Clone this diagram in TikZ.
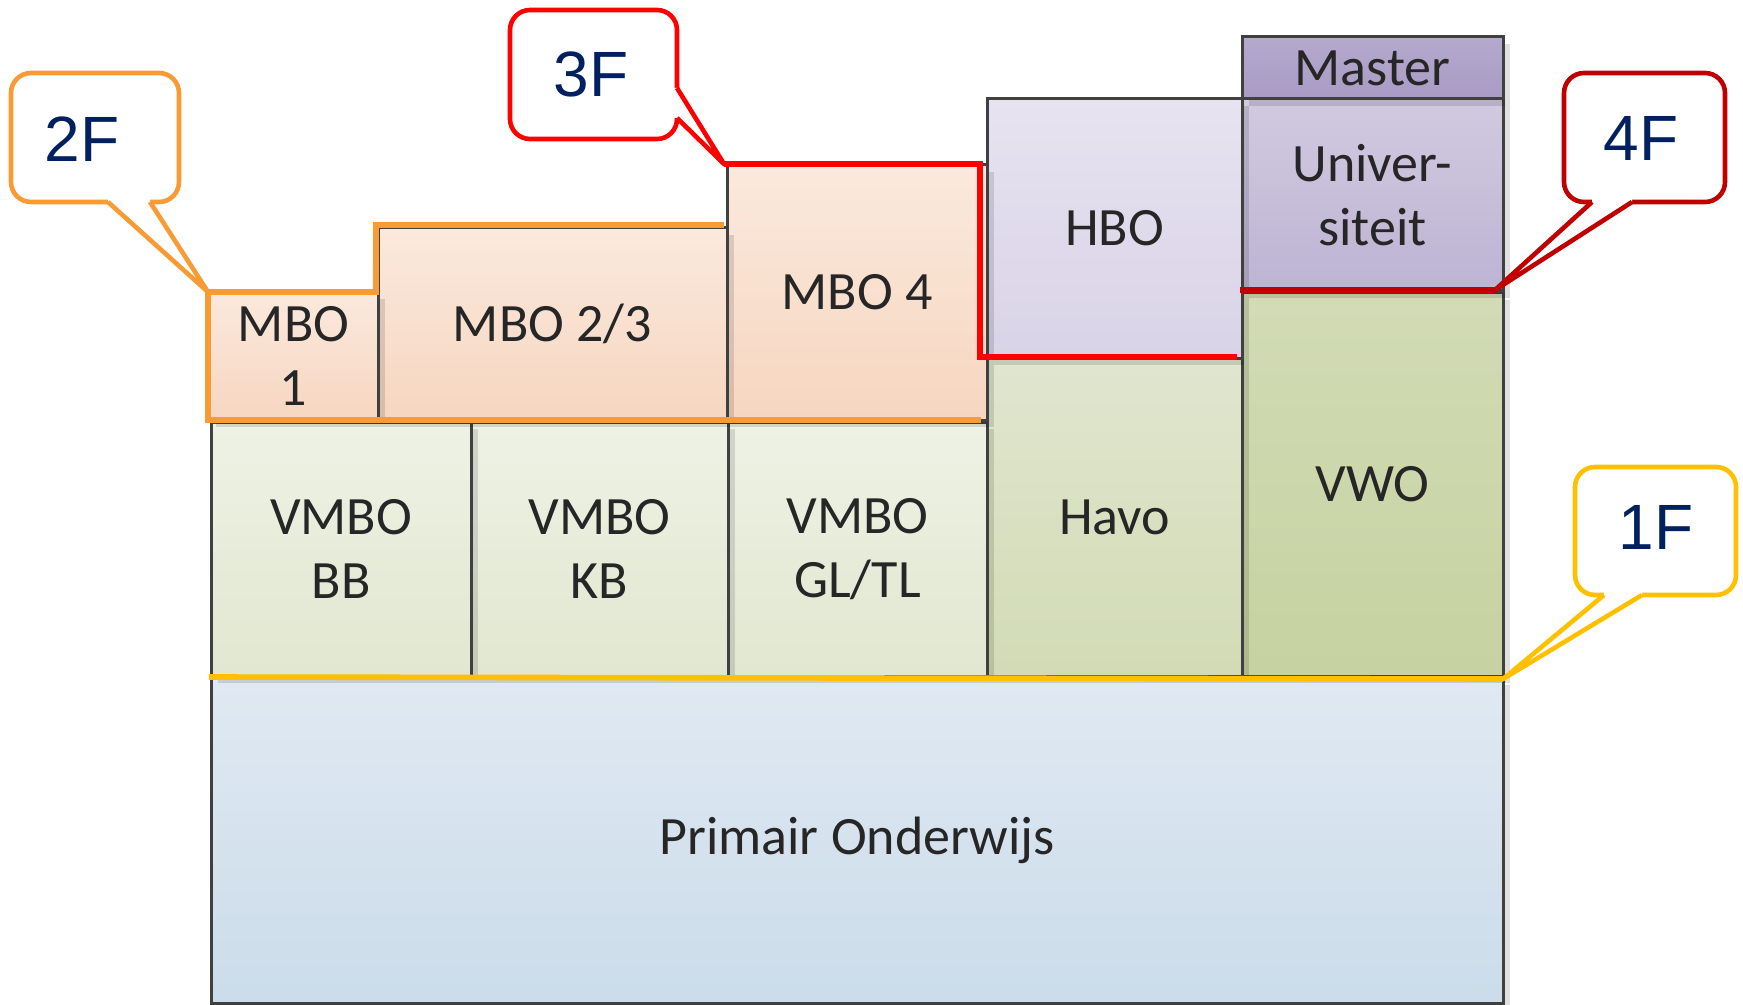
\documentclass[tikz,border=0pt]{standalone}
\usepackage{fontspec}
\setmainfont{Carlito}
\newfontfamily\labfont{Liberation Sans}
\usetikzlibrary{shadows}
\definecolor{edge}{HTML}{404040}
\definecolor{cOrange}{HTML}{F99B34}
\definecolor{cRed}{HTML}{FF0000}
\definecolor{cDark}{HTML}{C00000}
\definecolor{cYellow}{HTML}{FFC000}
\definecolor{navy}{HTML}{002060}
\definecolor{mboT}{HTML}{FBE9DD}\definecolor{mboB}{HTML}{F6D6C0}
\definecolor{vmT}{HTML}{EEF2E5}\definecolor{vmB}{HTML}{E1E7D0}
\definecolor{haT}{HTML}{E0E6CF}\definecolor{haB}{HTML}{D2DBB5}
\definecolor{vwT}{HTML}{D2DBB5}\definecolor{vwB}{HTML}{C6D2A1}
\definecolor{hbT}{HTML}{E7E3F0}\definecolor{hbB}{HTML}{D9D3E7}
\definecolor{unT}{HTML}{D2CAE0}\definecolor{unB}{HTML}{BDB3D3}
\definecolor{maT}{HTML}{B5A9CD}\definecolor{maB}{HTML}{A99BC4}
\definecolor{poT}{HTML}{E0E9F2}\definecolor{poB}{HTML}{CBDCEA}
% box from (x1,y1) to (x2,y2) in pixel units
\newcommand\pxbox[7]{%
  \node[#1, minimum width={(#5-#3)*0.5pt}, minimum height={(#6-#4)*0.5pt}]
    (#2) at ({(#3+#5)/2},{(#4+#6)/2}) {#7};}
\begin{document}
\begin{tikzpicture}[x=0.5pt,y=-0.5pt,
  blk/.style={draw=edge, line width=1.5pt, inner sep=0pt, outer sep=0pt, align=center,
    font=\fontsize{27pt}{32pt}\selectfont, text=black!85,
    drop shadow={shadow xshift=3.5pt, shadow yshift=-3.5pt, fill=black, opacity=0.12}},
  mbo/.style={blk, top color=mboT, bottom color=mboB},
  vmbo/.style={blk, top color=vmT, bottom color=vmB},
  havo/.style={blk, top color=haT, bottom color=haB},
  vwo/.style={blk, top color=vwT, bottom color=vwB},
  hbo/.style={blk, top color=hbT, bottom color=hbB},
  univ/.style={blk, top color=unT, bottom color=unB},
  mast/.style={blk, top color=maT, bottom color=maB},
  prim/.style={blk, top color=poT, bottom color=poB},
  lvl/.style={line width=2.8pt},
  callbox/.style={fill=white, line width=2.3pt, rounded corners=10pt, inner sep=0pt, outer sep=0pt},
  pointer/.style={line width=2.3pt, line join=round},
  lab/.style={font=\labfont\fontsize{32pt}{36pt}\selectfont, text=navy}
]
\useasboundingbox (0,0) rectangle (1743,1005);

% blocks (drawn from bottom-right to top-left so shadows fall correctly)
\pxbox{prim}{po}{211}{678}{1503}{1003}{Primair Onderwijs}
\pxbox{vwo}{vwo}{1242}{293}{1503}{676}{VWO}
\pxbox{havo}{havo}{987}{358}{1242}{676}{Havo}
\pxbox{vmbo}{gltl}{728}{422}{987}{676}{VMBO\\GL/TL}
\pxbox{vmbo}{kb}{471}{422}{728}{676}{VMBO\\KB}
\pxbox{vmbo}{bb}{211}{422}{471}{676}{VMBO\\BB}
\pxbox{univ}{univ}{1242}{99}{1503}{291}{Univer-\\siteit}
\pxbox{mast}{master}{1242}{37}{1503}{99}{Master}
\pxbox{hbo}{hbo}{987}{99}{1242}{358}{HBO}
\pxbox{mbo}{mbo4}{727}{165}{987}{420}{MBO 4}
\pxbox{mbo}{mbo23}{378}{228}{727}{420}{MBO 2/3}
\pxbox{mbo}{mbo1}{209}{292}{378}{420}{MBO\\1}

% level lines
\coordinate (t2) at (208,292);
\coordinate (t3) at (724,164);
\coordinate (t4) at (1495,290);
\coordinate (t1) at (1503,679);
\draw[lvl, cOrange] (t2) -- (376,292) -- (376,225) -- (724,225);
\draw[lvl, cOrange] (t2) -- (208,420) -- (981,420);
\draw[lvl, cRed] (t3) -- (980,164) -- (980,357) -- (1237,357);
\draw[lvl, cDark] (1240,290) -- (t4);
\draw[lvl, cYellow] (209,677) -- (t1);

% callout 2F
\pxbox{callbox, draw=cOrange}{c2}{11}{73}{179}{202}{}
\fill[white] (108,196) -- (108,202) -- (t2) -- (150,202) -- (150,196) -- cycle;
\draw[pointer, cOrange] (108,202) -- (t2) -- (150,202);
\node[lab] (l2) at (82,139) {2F};

% callout 3F
\pxbox{callbox, draw=cRed}{c3}{510}{10}{677}{139}{}
\fill[white] (671,88) -- (677,88) -- (t3) -- (677,118) -- (671,118) -- cycle;
\draw[pointer, cRed] (677,88) -- (t3) -- (677,118);
\node[lab] (l3) at (591,74) {3F};

% callout 4F
\pxbox{callbox, draw=cDark}{c4}{1564}{73}{1725}{202}{}
\fill[white] (1592,196) -- (1592,202) -- (t4) -- (1632,202) -- (1632,196) -- cycle;
\draw[pointer, cDark] (1592,202) -- (t4) -- (1632,202);
\node[lab] (l4) at (1641,138) {4F};

% callout 1F
\pxbox{callbox, draw=cYellow}{c1}{1575}{467}{1736}{595}{}
\fill[white] (1604,589) -- (1604,595) -- (t1) -- (1642,595) -- (1642,589) -- cycle;
\draw[pointer, cYellow] (1604,595) -- (t1) -- (1642,595);
\node[lab] (l1) at (1656,527) {1F};
\end{tikzpicture}
\end{document}
